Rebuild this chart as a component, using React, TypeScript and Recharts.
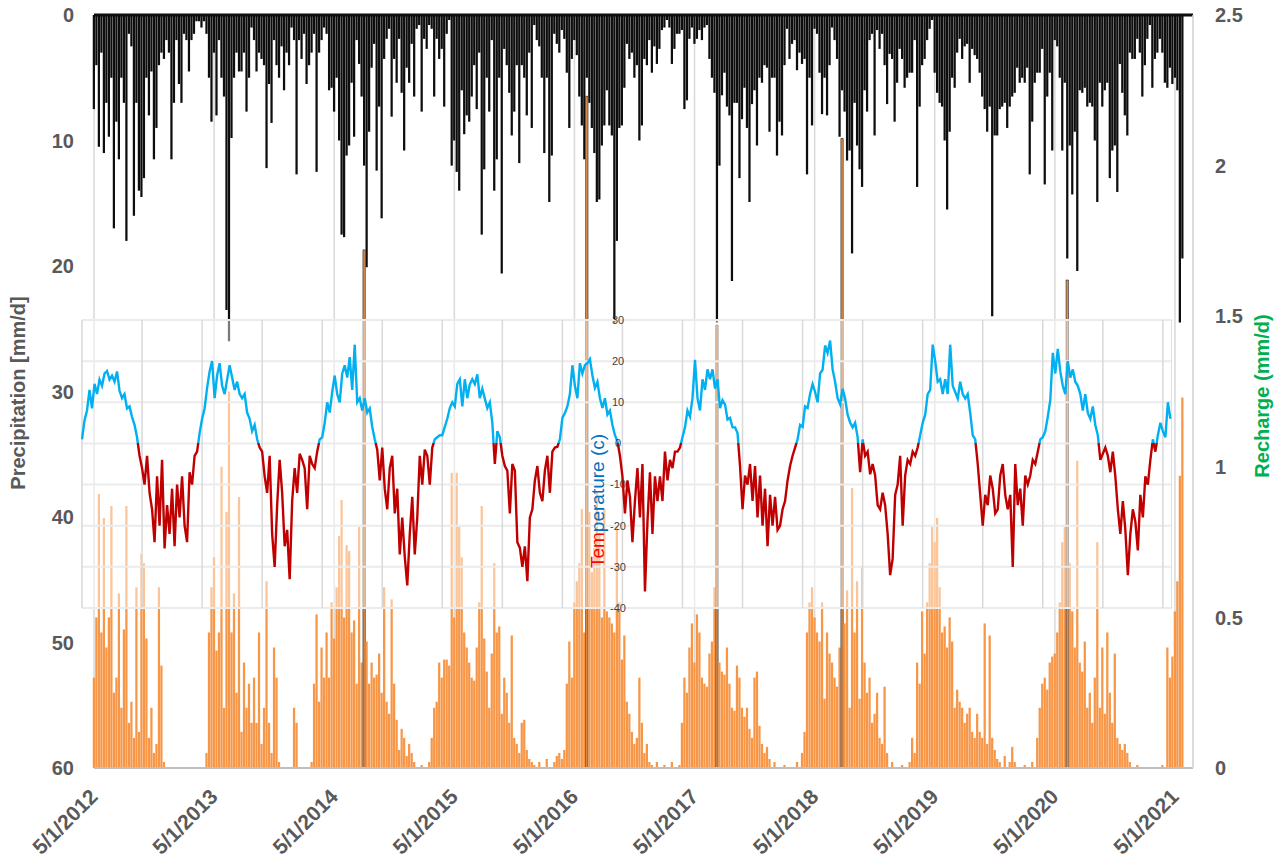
import React from 'react';
import { ComposedChart, LineChart, Bar, Line, Cell, XAxis, YAxis, CartesianGrid } from 'recharts';

const FONT = '"Liberation Sans", Arial, sans-serif';
const GRAY = '#595959';

// one sample every 1/48 year, starting on 5/1 of each year
const STEPS = 48;
const startYears = [2012, 2013, 2014, 2015, 2016, 2017, 2018, 2019, 2020, 2021];
const yearTicks = [0, 1, 2, 3, 4, 5, 6, 7, 8, 9];
const halfYearTicks = [0, 0.5, 1, 1.5, 2, 2.5, 3, 3.5, 4, 4.5, 5, 5.5, 6, 6.5, 7, 7.5, 8, 8.5, 9];
const precipTicks = [0, 10, 20, 30, 40, 50, 60];
const rechargeTicks = [0, 0.5, 1, 1.5, 2, 2.5];
const tempTicks = [30, 20, 10, 0, -10, -20, -30, -40];

// precipitation (mm/d)
const precip2012 = [7.5, 4, 10.5, 3, 11, 7, 9.7, 5, 17, 8.5, 11.5, 5, 7, 18, 1.5, 2.5, 16, 7, 14, 14.5, 13, 5, 8, 4.5, 11.5, 9, 4, 3, 3.5, 2, 3, 11.5, 7, 2, 5.5, 7, 1.5, 2, 4.5, 2, 1.5, 0.5, 0.5, 1, 0.5, 1.5, 5, 8.5];
const precip2013 = [3, 8, 2, 5, 6.5, 23.5, 26, 9.8, 5, 3, 4.5, 4.5, 3, 7.7, 5, 1, 2, 4.5, 3, 3.5, 4, 12.2, 5.5, 8.6, 2, 4, 5, 2.5, 6, 3, 4, 1, 2, 12.7, 2, 3.5, 1.5, 5.5, 4, 3, 1.5, 12.5, 3, 2, 1, 1.5, 6, 5.8];
const precip2014 = [7.7, 5, 10, 17.5, 17.7, 11.2, 10.4, 5.4, 9.7, 2, 3.9, 6.5, 12, 20.1, 9.3, 4.2, 2.3, 12.4, 7.3, 16.2, 3.5, 1.9, 1.1, 8.1, 3.5, 5.4, 1.9, 6.2, 10.8, 4.2, 5.4, 2.3, 6.5, 1.1, 0.8, 7.7, 1.9, 2.7, 0.8, 1.1, 6.5, 1.9, 3.5, 2.7, 7.3, 1.5, 0.4, 12];
const precip2015 = [10, 12.5, 14, 6, 9.5, 8, 8.5, 6.5, 4, 7.5, 3, 17.5, 12.3, 5, 7.7, 2, 14, 11.5, 5, 20.6, 2.7, 4, 6.2, 9.6, 7.7, 4, 11.8, 4, 5, 8, 3, 9, 0.8, 2, 2.5, 5, 11, 5, 14.9, 11.2, 1.5, 2.3, 3, 1.2, 1.9, 4.6, 9, 3.5];
const precip2016 = [2, 3.2, 6.5, 8.8, 11.5, 5, 7, 9, 11, 14.9, 14.7, 10.4, 8.8, 6, 8.8, 9.6, 24.5, 18, 9, 8.8, 5.8, 2.3, 3.5, 3, 5, 4, 10, 8.8, 3.5, 4, 2, 4.6, 2.5, 3.9, 2.7, 1.2, 1, 0.4, 1, 3.9, 2.7, 1.5, 1.5, 1.2, 7.5, 6.8, 1.9, 1];
const precip2017 = [2.3, 1.9, 1.2, 2, 1, 0.8, 3.5, 5, 6.2, 24.5, 12, 6.4, 4.6, 7.3, 8, 21.2, 7, 7, 13, 8.3, 5.8, 9, 14.9, 7.1, 6, 10.4, 5, 5.4, 4, 4.2, 9.3, 5, 5, 11.2, 8.5, 9.6, 4, 1.1, 3.5, 2.3, 2, 4.4, 3, 3.9, 3.5, 12.7, 5, 8.8];
const precip2018 = [1.1, 1.5, 4.6, 7.9, 5, 8, 4, 1, 2, 3.5, 9.7, 6, 7.7, 11.6, 10.8, 19, 7, 10.4, 12.3, 13.7, 6, 7.7, 2, 1.5, 9.6, 1.2, 2.7, 1.5, 4, 7.1, 3.1, 3.5, 8.5, 5.4, 2.7, 3.5, 5.8, 5, 4.6, 4.6, 2, 13.7, 7.3, 4, 3.5, 2, 1.1, 0.4];
const precip2019 = [4.6, 6.2, 7, 7.3, 10, 15.5, 9.3, 5, 5.8, 3, 1.9, 3.5, 2.5, 2.3, 5.4, 2.7, 3.2, 3.5, 4.6, 6.5, 7.5, 9.3, 7.3, 24, 9.6, 9.6, 7.5, 7.3, 7, 9, 7.3, 6.5, 6.2, 4.2, 5.4, 5, 5.4, 4.2, 12.7, 8.5, 5.4, 4.6, 4.6, 2.7, 13.5, 6.5, 4.6, 10.8];
const precip2020 = [2, 2.5, 5, 10.8, 5.4, 19.4, 10.4, 14.3, 9.3, 20.4, 6, 6.2, 5.8, 7.3, 7, 7.3, 10, 14.9, 5.4, 7.3, 6, 5.4, 13, 10.8, 10.4, 14.1, 3.9, 6.2, 8, 9.6, 3, 3.5, 3.5, 1.9, 3, 6.5, 4, 1.9, 0.8, 5.8, 3.5, 3, 1.9, 3, 5.4, 5.8, 4.2, 5.5];
const precip2021 = [5, 6, 24.5, 19.4];

// recharge (mm/d)
const recharge2012 = [0.3, 0.5, 0.91, 0.45, 0.83, 0.4, 0.5, 0.87, 0.25, 0.3, 0.58, 0.2, 0.46, 0.87, 0.15, 0.22, 0.1, 0.6, 0.12, 0.71, 0.68, 0.43, 0.1, 0.2, 0.05, 0.08, 0.6, 0.34, 0.02, 0, 0, 0, 0, 0, 0, 0, 0, 0, 0, 0, 0, 0, 0, 0, 0, 0.05, 0.45, 0.6];
const recharge2013 = [0.7, 0.39, 0.45, 1.0, 0.2, 0.85, 1.25, 0.45, 0.58, 0.25, 0.9, 0.12, 0.35, 0.2, 0.28, 0.15, 0.3, 0.15, 0.45, 0.08, 0.2, 0.62, 0.15, 0.05, 0.4, 0.3, 0.02, 0, 0, 0, 0, 0, 0.2, 0.15, 0, 0, 0, 0, 0, 0.02, 0.28, 0.51, 0.22, 0.4, 0.3, 0.45, 0.3, 0.55];
const recharge2014 = [0.43, 0.6, 0.77, 0.89, 0.5, 0.74, 0.72, 0.45, 0.49, 0.28, 0.8, 0.35, 1.72, 0.42, 0.28, 0.35, 0.3, 0.31, 0.38, 0.25, 0.6, 0.22, 0.18, 0.56, 0.28, 0.16, 0.06, 0.13, 0.1, 0.04, 0.08, 0.05, 0.02, 0, 0, 0.01, 0, 0, 0.02, 0.1, 0.2, 0.22, 0.35, 0.3, 0.36, 0.36, 0.34, 0.98];
const recharge2015 = [0.5, 0.98, 0.8, 0.7, 0.45, 0.4, 0.35, 0.3, 0.29, 0.4, 0.55, 0.87, 0.43, 0.32, 0.2, 0.38, 0.68, 0.45, 0.47, 0.18, 0.3, 0.25, 0.15, 0.44, 0.1, 0.08, 0.05, 0.15, 0.16, 0.06, 0.03, 0.02, 0.01, 0, 0.02, 0, 0, 0.03, 0, 0, 0.02, 0.04, 0.05, 0.03, 0.06, 0.28, 0.42, 0.3];
const recharge2016 = [0.55, 0.62, 0.68, 0.86, 0.45, 2.23, 0.85, 0.65, 0.73, 0.92, 0.78, 0.5, 0.86, 0.52, 0.5, 0.48, 0.45, 0.8, 0.55, 0.36, 0.44, 0.22, 0.18, 0.12, 0.08, 0.1, 0.3, 0.15, 0.05, 0.08, 0.02, 0.01, 0, 0.02, 0, 0, 0.01, 0, 0, 0.02, 0, 0, 0.01, 0.15, 0.3, 0.25, 0.4, 0.48];
const recharge2017 = [0.35, 0.51, 0.45, 0.3, 0.28, 0.27, 0.38, 0.42, 0.6, 1.47, 0.35, 0.32, 0.31, 0.4, 0.28, 0.2, 0.19, 0.34, 0.3, 0.2, 0.17, 0.2, 0.13, 0.1, 0.3, 0.32, 0.14, 0.08, 0.05, 0.07, 0.03, 0, 0.02, 0, 0, 0, 0.01, 0, 0, 0, 0, 0.02, 0, 0.05, 0.12, 0.45, 0.55, 0.6];
const recharge2018 = [0.5, 0.45, 0.42, 0.55, 0.23, 0.45, 0.38, 0.35, 0.3, 0.27, 0.4, 2.09, 0.48, 0.59, 0.2, 0.93, 0.45, 0.62, 0.23, 0.67, 0.35, 0.25, 0.3, 0.15, 0.18, 0.25, 0.1, 0.08, 0.27, 0.05, 0, 0.02, 0, 0, 0, 0.01, 0, 0, 0.02, 0.1, 0.05, 0.35, 0.28, 0.52, 0.38, 0.55, 0.68, 0.8];
const recharge2019 = [0.75, 0.83, 0.6, 0.45, 0.47, 0.4, 0.5, 0.42, 0.2, 0.26, 0.22, 0.2, 0.15, 0.18, 0.2, 0.12, 0.1, 0.18, 0.12, 0.1, 0.48, 0.08, 0.44, 0.1, 0.06, 0.03, 0.02, 0, 0.04, 0, 0.02, 0.07, 0.02, 0, 0, 0, 0.01, 0, 0, 0.02, 0, 0.1, 0.2, 0.28, 0.3, 0.26, 0.35, 0.37];
const recharge2020 = [0.38, 0.45, 0.55, 0.75, 0.8, 1.62, 0.68, 0.52, 0.4, 1.02, 0.35, 0.32, 0.42, 0.2, 0.25, 0.15, 0.3, 0.75, 0.2, 0.4, 0.18, 0.45, 0.25, 0.15, 0.38, 0.1, 0.08, 0.06, 0.08, 0.05, 0.02, 0, 0, 0.01, 0, 0, 0, 0, 0, 0, 0, 0, 0, 0.01, 0, 0.4, 0.3, 0.37];
const recharge2021 = [0.52, 0.62, 0.97, 1.23];

// air temperature (c)
const temp2012 = [1, 5.6, 8, 13, 8.5, 14.5, 12, 15.5, 14, 17, 17.6, 15.5, 16.5, 15, 17.5, 12.8, 11, 12, 8.5, 9, 6.4, 4.5, 1.5, -3, -6, -10, -3, -12, -16, -24, -8, -20, -4, -25.5, -15, -22, -11, -25, -10, -18, -8, -20, -24, -7, -10, -3, -2, 2.5];
const temp2013 = [6, 8.5, 13.5, 17.5, 20, 11, 16.5, 19.5, 14, 12, 15.5, 19, 16, 13, 15, 12, 11, 12, 7.5, 6, 3, 4.5, 1, -1, -2, -8, -12, -3, -22, -30, -15, -4, -12, -25, -21, -33, -14, -6, -12, -2.5, -4, -6, -16, -3, -5, -6, -2, 1];
const temp2014 = [1.5, 5, 10, 7.5, 12.5, 16.5, 12, 10, 17, 19, 16, 21, 13, 24, 10, 11, 8, 11, 7.5, 8.5, 4, 1, -1.5, -9, -1, -11, -16, -6, -3, -17, -11, -27, -18, -27.5, -34.5, -22, -13, -27, -18, -3, -10, -1.5, -3, -10, -1, 1, 1.5, 2];
const temp2015 = [2, 4, 6, 8.6, 10, 9, 14.5, 15.6, 9, 15.6, 11, 14.4, 15.6, 14.4, 16.8, 11, 13.3, 10.9, 8.6, 10, 5, -5, 3, 1.5, -3, -5.5, -6.6, -17, -5, -6.6, -24, -25.4, -30, -25, -33.5, -18, -16, -9, -5.5, -12, -14, -6.6, -3, -12, -2, -1, -0.8, 1];
const temp2016 = [6.2, 7.4, 9, 12, 19, 14, 11, 19.5, 17, 19, 19.5, 20.5, 16.5, 13.5, 15, 11, 8.6, 11, 7, 8, 4.5, 2, 0.5, -3, -8, -17, -9, -13, -24, -14, -6, -18, -5, -36, -19, -7, -22, -8, -14, -8, -14, -2, -9, -4, -6, -2, -2, -1];
const temp2017 = [1.5, 3.9, 8, 6.5, 11, 20.3, 11, 8, 15.6, 13, 18, 15.6, 18, 13.3, 15.6, 8.6, 10.5, 9.5, 5.8, 6.2, 3.9, 3.9, 2.5, -5.5, -16, -7.8, -10, -5, -14, -5.5, -18, -7.8, -20, -11, -25, -12.5, -20, -13, -21, -20, -16, -14, -9, -5.5, -3, -1, 1, 4.5];
const temp2018 = [4, 9, 8.6, 12, 14.4, 12.5, 10, 17, 17.9, 23.8, 22, 25, 18, 15, 11, 9.5, 13.3, 10.9, 7, 5.1, 3.9, 5, 1.5, -7, 1, -3, -2, -7.5, -5, -7.8, -15, -16, -12, -15, -22, -32, -28, -12.5, -10, -3, -20, -7.8, -4, -5, -2, -3, -1, 2];
const temp2019 = [5, 7, 12, 13, 24, 20, 15, 15.6, 12, 15.6, 12, 24, 14, 12.5, 10.9, 15, 12, 10.9, 12, 7.4, 2, 1, -5, -12.5, -20, -12.5, -15, -7.8, -11, -17, -16, -7.8, -5, -12.5, -16, -12.5, -30, -5, -15, -11, -20, -7.8, -10, -7.8, -4, -5, -2, 1];
const temp2020 = [1.5, 3, 6.5, 10.5, 22, 17, 23, 17.5, 14, 12, 20, 16, 18, 15, 14, 12, 8, 12, 7.4, 6, 9, 4.5, 2, -4, -2.5, -1, -3, -7, -2, -8, -16, -22, -14, -21, -32, -22, -16, -19, -26, -12.5, -18, -8, -10, -4, 1, -2, 2, 5];
const temp2021 = [3, 1.5, 10, 6];

const precipByYear = [precip2012, precip2013, precip2014, precip2015, precip2016, precip2017, precip2018, precip2019, precip2020, precip2021];
const rechargeByYear = [recharge2012, recharge2013, recharge2014, recharge2015, recharge2016, recharge2017, recharge2018, recharge2019, recharge2020, recharge2021];
const tempByYear = [temp2012, temp2013, temp2014, temp2015, temp2016, temp2017, temp2018, temp2019, temp2020, temp2021];

const mainRows = precipByYear.flatMap((vals, y) =>
  vals.map((p, k) => ({ t: y + k / STEPS, precip: p, recharge: rechargeByYear[y][k] }))
);
const tempRows = tempByYear.flatMap((vals, y) => vals.map((v, k) => ({ t: y + k / STEPS, temp: v })));

const TEMP_MIN = -40;
const TEMP_MAX = 30;
// inset plot: 288px tall, with 12px of room above and below for the end labels
const INSET_PAD = 12;
const INSET_H = 288;
const zeroY = INSET_PAD + (INSET_H * TEMP_MAX) / (TEMP_MAX - TEMP_MIN);

const DateTick = (props: any) => {
  const { x, y, payload } = props;
  return (
    <g transform={`translate(${x + 5},${y + 30}) rotate(-45)`}>
      <text x={0} y={0} textAnchor="end" fill={GRAY} fontSize={21} fontWeight="bold" fontFamily={FONT}>
        {`5/1/${startYears[payload.value]}`}
      </text>
    </g>
  );
};

const SideTitle = (props: any) => {
  const { px, py, color, text } = props;
  return (
    <text
      transform={`translate(${px},${py}) rotate(-90)`}
      textAnchor="middle"
      dominantBaseline="central"
      fill={color}
      fontSize={20}
      fontWeight="bold"
      fontFamily={FONT}
    >
      {text}
    </text>
  );
};

// temperature labels sit in the middle of the inset, not at its edge
const TEMP_LABEL_X = 537;
const TempTick = (props: any) => {
  const { y, payload } = props;
  return (
    <text x={TEMP_LABEL_X} y={y} dy="0.35em" textAnchor="middle" fontSize={11} fill="#404040" fontFamily={FONT}>
      {payload.value}
    </text>
  );
};

const TempTitle = () => (
  <text transform={`translate(516,${181 + INSET_PAD}) rotate(-90)`} textAnchor="middle" dominantBaseline="central" fontSize={19} fontFamily={FONT}>
    <tspan fill="#FF0000">Tem</tspan>
    <tspan fill="#0070C0">perature (c)</tspan>
  </text>
);

export default function App() {
  return (
    <div style={{ position: 'absolute', left: 0, top: 0, width: 1282, height: 865, background: '#fff', fontFamily: FONT }}>
      <ComposedChart width={1282} height={865} data={mainRows} margin={{ top: 14, right: 29, bottom: 17, left: 34 }}>
        <CartesianGrid xAxisId="date" yAxisId="precip" horizontal={false} stroke="#D9D9D9" strokeWidth={1.5} />
        <XAxis
          xAxisId="date"
          dataKey="t"
          type="number"
          domain={[0, 9.15]}
          ticks={yearTicks}
          interval={0}
          height={80}
          tickSize={0}
          tickMargin={0}
          tickLine={false}
          axisLine={{ stroke: '#BFBFBF', strokeWidth: 2 }}
          tick={<DateTick />}
        />
        <XAxis
          xAxisId="top"
          orientation="top"
          dataKey="t"
          type="number"
          domain={[0, 9.15]}
          ticks={yearTicks}
          interval={0}
          height={1}
          tick={false}
          tickSize={6}
          tickLine={{ stroke: '#0D0D0D', strokeWidth: 2 }}
          axisLine={{ stroke: '#0D0D0D', strokeWidth: 3 }}
        />
        <XAxis xAxisId="rech" dataKey="t" type="number" domain={[0, 9.15]} hide />
        <YAxis
          yAxisId="precip"
          reversed
          domain={[0, 60]}
          ticks={precipTicks}
          interval={0}
          width={60}
          tickSize={0}
          tickMargin={20}
          tickLine={false}
          axisLine={false}
          tick={{ fill: GRAY, fontSize: 20, fontWeight: 'bold', fontFamily: FONT }}
          label={<SideTitle px={18} py={393} color={GRAY} text="Precipitation [mm/d]" />}
        />
        <YAxis
          yAxisId="rech"
          orientation="right"
          domain={[0, 2.5]}
          ticks={rechargeTicks}
          interval={0}
          width={60}
          tickSize={0}
          tickMargin={22}
          tickLine={false}
          axisLine={{ stroke: '#D9D9D9', strokeWidth: 1.5 }}
          tick={{ fill: GRAY, fontSize: 20, fontWeight: 'bold', fontFamily: FONT }}
          label={<SideTitle px={1262} py={396} color="#00B050" text="Recharge (mm/d)" />}
        />
        <Bar xAxisId="date" yAxisId="precip" dataKey="precip" fill="#0D0D0D" barSize={3} isAnimationActive={false} />
        <Bar xAxisId="rech" yAxisId="rech" dataKey="recharge" fill="#F79646" barSize={3} isAnimationActive={false}>
          {mainRows.map((row, i) => (
            <Cell key={i} fill="#F79646" stroke={row.recharge > 1.4 ? '#3A3A3A' : 'none'} strokeWidth={0.8} />
          ))}
        </Bar>
      </ComposedChart>

      {/* translucent panel behind the temperature inset */}
      <div style={{ position: 'absolute', left: 82, top: 320, width: 1090, height: INSET_H, background: 'rgba(255,255,255,0.45)' }} />

      <div style={{ position: 'absolute', left: 81, top: 320 - INSET_PAD, width: 1091, height: INSET_H + 2 * INSET_PAD }}>
        <LineChart
          width={1091}
          height={INSET_H + 2 * INSET_PAD}
          data={tempRows}
          margin={{ top: INSET_PAD, right: 0, bottom: INSET_PAD, left: 0 }}
        >
          <defs>
            <linearGradient id="tempSplit" x1="0" y1="0" x2="0" y2={INSET_H + 2 * INSET_PAD} gradientUnits="userSpaceOnUse">
              <stop offset={zeroY / (INSET_H + 2 * INSET_PAD)} stopColor="#00B0F0" />
              <stop offset={zeroY / (INSET_H + 2 * INSET_PAD)} stopColor="#C00000" />
            </linearGradient>
          </defs>
          <CartesianGrid vertical={false} stroke="#EBEBEB" strokeWidth={2} />
          <CartesianGrid horizontal={false} stroke="#D9D9D9" strokeWidth={1.5} />
          <XAxis dataKey="t" type="number" domain={[0, 9.076]} ticks={halfYearTicks} interval={0} hide />
          <YAxis
            domain={[TEMP_MIN, TEMP_MAX]}
            ticks={tempTicks}
            interval={0}
            width={1}
            tickLine={false}
            axisLine={false}
            tick={<TempTick />}
            label={<TempTitle />}
          />
          <Line
            type="linear"
            dataKey="temp"
            stroke="url(#tempSplit)"
            strokeWidth={2.4}
            dot={false}
            isAnimationActive={false}
          />
        </LineChart>
      </div>
    </div>
  );
}
